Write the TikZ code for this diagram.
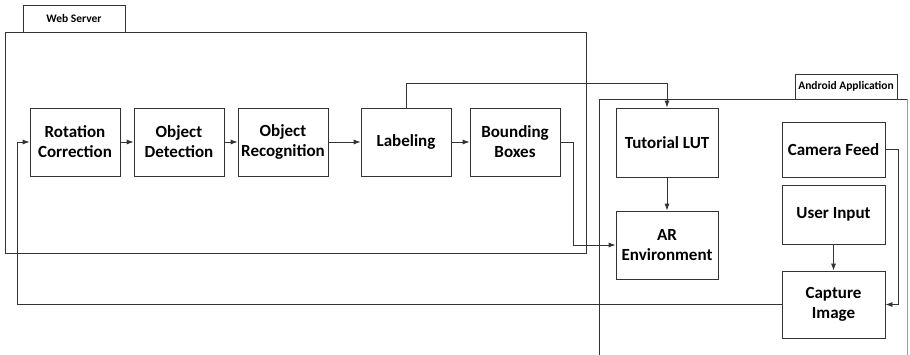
\documentclass[tikz,border=0pt]{standalone}
\usepackage{fontspec}
\setmainfont{Carlito}
\usepackage{tikz}
\usetikzlibrary{arrows.meta}

\begin{document}
\begin{tikzpicture}[x=1pt,y=-1pt,line width=0.8pt,draw=black!80,
  >={Latex[length=7pt,width=5pt]},
  block/.style={draw=black!80, align=center, inner sep=0pt,
    font=\bfseries\fontsize{17}{20}\selectfont},
  tablabel/.style={font=\bfseries\fontsize{11.5}{13}\selectfont}]
\clip (0,0) rectangle (910,354);
% web server frame and its tab
\draw (5,32) rectangle (586,253);
\draw (23,5) rectangle (125,32);
\node[tablabel] (webtab) at (74,18.5) {Web Server};
% android frame, open at the bottom
\draw (599,370) -- (599,99) -- (907,99);
\draw[black!40] (907,99) -- (907,370);
\draw (795,74) rectangle (897,99);
\node[tablabel] (apptab) at (846,86.5) {Android Application};
% processing chain on the server
\node[block, minimum width=90pt, minimum height=68pt] (rot) at (75,142) {Rotation\\Correction};
\node[block, minimum width=90pt, minimum height=68pt] (det) at (179,142) {Object\\Detection};
\node[block, minimum width=90pt, minimum height=68pt] (rec) at (283,142) {Object\\Recognition};
\node[block, minimum width=90pt, minimum height=68pt] (lab) at (406,142) {Labeling};
\node[block, minimum width=90pt, minimum height=68pt] (bbox) at (515,142) {Bounding\\Boxes};
% blocks in the app
\node[block, minimum width=102pt, minimum height=69pt] (lut) at (667,142.5) {Tutorial LUT};
\node[block, minimum width=102pt, minimum height=68pt] (ar) at (667,245) {AR\\Environment};
\node[block, minimum width=103pt, minimum height=55pt] (cam) at (833.5,149.5) {Camera Feed};
\node[block, minimum width=103pt, minimum height=59pt] (usr) at (833.5,214.5) {User Input};
\node[block, minimum width=103pt, minimum height=67pt] (cap) at (833.5,304.5) {Capture\\Image};
% arrows
\draw[->] (rot) -- (det);
\draw[->] (det) -- (rec);
\draw[->] (rec) -- (lab);
\draw[->] (lab) -- (bbox);
\draw[->] (lab.north) -- (406,83) -| (lut.north);
\draw[->] (bbox.east) -- (573,142) |- (ar.west);
\draw[->] (lut) -- (ar);
\draw[->] (usr) -- (cap);
\draw[->] (cam.east) -- (898,149.5) |- (cap.east);
\draw[->] (cap.west) -- (17,304.5) |- (rot.west);
\end{tikzpicture}
\end{document}
